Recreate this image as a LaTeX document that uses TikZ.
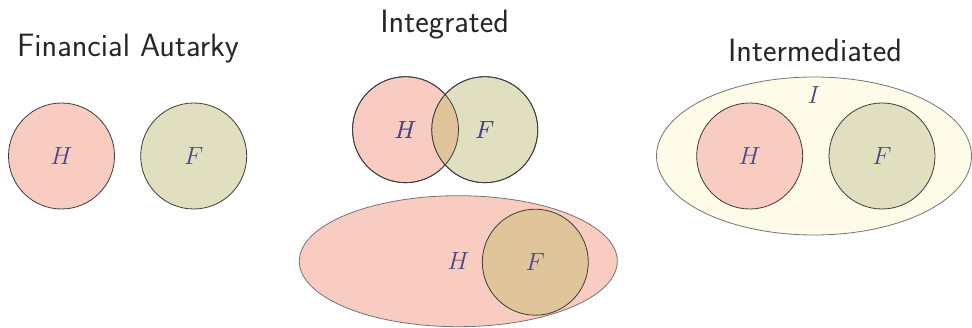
\documentclass[tikz,border=0pt]{standalone}
\usetikzlibrary{shapes.geometric}
\definecolor{homefill}{RGB}{248,204,192}
\definecolor{foreignfill}{RGB}{224,223,192}
\definecolor{sharedfill}{RGB}{224,197,154}
\definecolor{interfill}{RGB}{254,251,232}
\definecolor{labelink}{RGB}{75,72,135}
\definecolor{edgeink}{RGB}{60,60,60}
\tikzset{
  title/.style={font=\sffamily\fontsize{32.3}{38}\selectfont, text=black!85, inner sep=0pt},
  mathlabel/.style={font=\fontsize{28}{33}\selectfont, text=labelink},
  country/.style={circle, minimum size=106pt, inner sep=0pt, draw=edgeink, line width=0.8pt, mathlabel},
  region/.style={ellipse, inner sep=0pt, draw=black!55, line width=0.8pt, mathlabel},
  home/.style={country, fill=homefill},
  foreign/.style={country, fill=foreignfill},
}
\begin{document}
\begin{tikzpicture}[x=1pt, y=-1pt]
  \useasboundingbox (0,0) rectangle (972,328);

  % Financial autarky
  \node[title, anchor=base] (tAut) at (128,56.5) {Financial Autarky};
  \node[home] (autH) at (61.5,156) {$H$};
  \node[foreign] (autF) at (193.7,156) {$F$};

  % Integrated: two overlapping countries
  \node[title, anchor=base] (tInt) at (444.7,32.3) {Integrated};
  \node[home] (intH) at (405.5,129.7) {$H$};
  \node[foreign] (intF) at (484.8,129.7) {$F$};
  \begin{scope}
    \clip (intH.center) circle (53pt);
    \fill[sharedfill] (intF.center) circle (53pt);
  \end{scope}
  \draw[edgeink, line width=0.8pt] (intH.center) circle (53pt);
  \draw[edgeink, line width=0.8pt] (intF.center) circle (53pt);
  \node[mathlabel] at (intH.center) {$H$};
  \node[mathlabel] at (intF.center) {$F$};

  % Integrated: foreign country inside a large home region
  \node[region, fill=homefill, minimum width=318pt, minimum height=131pt] (bigH) at (458.3,261.2) {$H$};
  \node[country, fill=sharedfill] (smallF) at (535.3,262.2) {$F$};

  % Intermediated
  \node[title, anchor=base] (tMed) at (815,61.7) {Intermediated};
  \node[region, fill=interfill, minimum width=315pt, minimum height=158pt] (medI) at (814,156) {};
  \node[mathlabel] (medIlabel) at (814,95) {$I$};
  \node[home] (medH) at (749.7,156) {$H$};
  \node[foreign] (medF) at (882,156) {$F$};
\end{tikzpicture}
\end{document}
